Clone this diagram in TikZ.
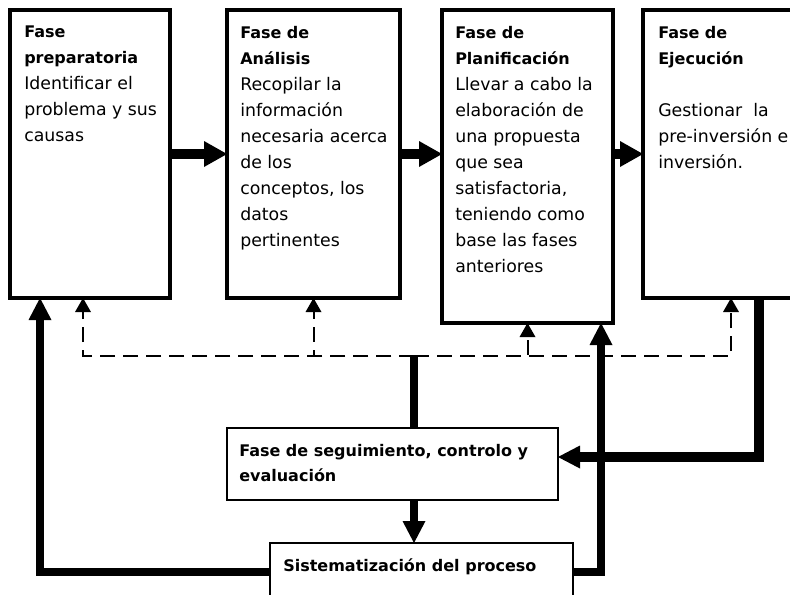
\documentclass[tikz,border=0pt]{standalone}
\usepackage{fontspec}
\setmainfont{DejaVu Sans}
\usetikzlibrary{arrows.meta,calc}
\newcommand{\titulo}[1]{{\bfseries\fontsize{12}{19.5}\selectfont #1}}

\begin{document}
\begin{tikzpicture}[
    x=0.75pt, y=-0.75pt,
    fase/.style={draw, line width=3pt, anchor=north west,
                 inner sep=0pt, outer sep=0pt},
    cuadro/.style={fase, line width=1.5pt},
    txt/.style={anchor=north west, inner sep=0pt, align=left,
                font=\fontsize{13}{19.5}\selectfont},
    txtb/.style={txt, font=\bfseries\fontsize{12}{18.75}\selectfont},
    paso/.style={line width=7.5pt,
                 -{Triangle[length=17.25pt,width=19.5pt,line width=0pt]}},
    ciclo/.style={line width=6pt,
                  -{Triangle[length=16.5pt,width=17.25pt,line width=0pt]}},
    retro/.style={line width=1.5pt, dash pattern=on 11.25pt off 6pt,
                  -{Triangle[length=10.5pt,width=12pt,line width=0pt]}}]
\useasboundingbox (0,0) rectangle (790,594);
\clip (0,0) rectangle (790,594);

\node[fase, minimum width=120pt, minimum height=216pt] (prep) at (10,10) {};
\node[fase, minimum width=129.75pt, minimum height=216pt] (anal) at (227,10) {};
\node[fase, minimum width=128.25pt, minimum height=234.75pt] (plan) at (442,10) {};
\node[fase, minimum width=132pt, minimum height=216pt] (ejec) at (643,10) {};
\node[cuadro, minimum width=248.25pt, minimum height=54pt] (segui) at (227,428) {};
\node[cuadro, minimum width=227.25pt, minimum height=43.5pt] (sist) at (270,543) {};

\node[txt] (prepT) at ($(prep.north west)+(14,16)$)
    {\titulo{Fase}\\\titulo{preparatoria}\\Identificar el\\problema y sus\\causas};
\node[txt] (analT) at ($(anal.north west)+(13,16)$)
    {\titulo{Fase de}\\\titulo{Análisis}\\Recopilar la\\información\\necesaria acerca\\de los\\conceptos, los\\datos\\pertinentes};
\node[txt] (planT) at ($(plan.north west)+(13,16)$)
    {\titulo{Fase de}\\\titulo{Planificación}\\Llevar a cabo la\\elaboración de\\una propuesta\\que sea\\satisfactoria,\\teniendo como\\base las fases\\anteriores};
\node[txt] (ejecT) at ($(ejec.north west)+(15,16)$)
    {\titulo{Fase de}\\\titulo{Ejecución}\\[19.5pt]Gestionar~ la\\pre-inversión e\\inversión.};
\node[txtb] (seguiT) at ($(segui.north west)+(12,16)$)
    {Fase de seguimiento, controlo y\\evaluación};
\node[txtb] (sistT) at ($(sist.north west)+(13,15)$)
    {Sistematización del proceso};

\draw[paso] (prep.east) -- (anal.west);
\draw[paso] (anal.east) -- (anal.east -| plan.west);
\draw[paso] (plan.east |- ejec.west) -- (ejec.west);

\coordinate (hub) at ($(segui.north)+(21.5,-72)$);
\coordinate (baja) at ($(segui.south)+(21.5,0)$);
\draw[retro] (hub) -| ($(prep.south)+(-7,0)$);
\draw[retro] (hub) -| (anal.south);
\draw[retro] (hub) -| (plan.south);
\draw[retro] (hub) -| (ejec.south);

\draw[line width=6pt] (segui.north -| hub) -- (hub);
\draw[ciclo] (baja) -- (baja |- sist.north);
\draw[ciclo] (sist.west) -| ($(prep.south)+(-50,0)$);
\draw[ciclo] (sist.east) -| ($(plan.south)+(73.5,0)$);
\draw[ciclo, line width=8pt] ($(ejec.south)+(28,0)$) |- ($(segui.east)+(0,-7)$);
\end{tikzpicture}
\end{document}
